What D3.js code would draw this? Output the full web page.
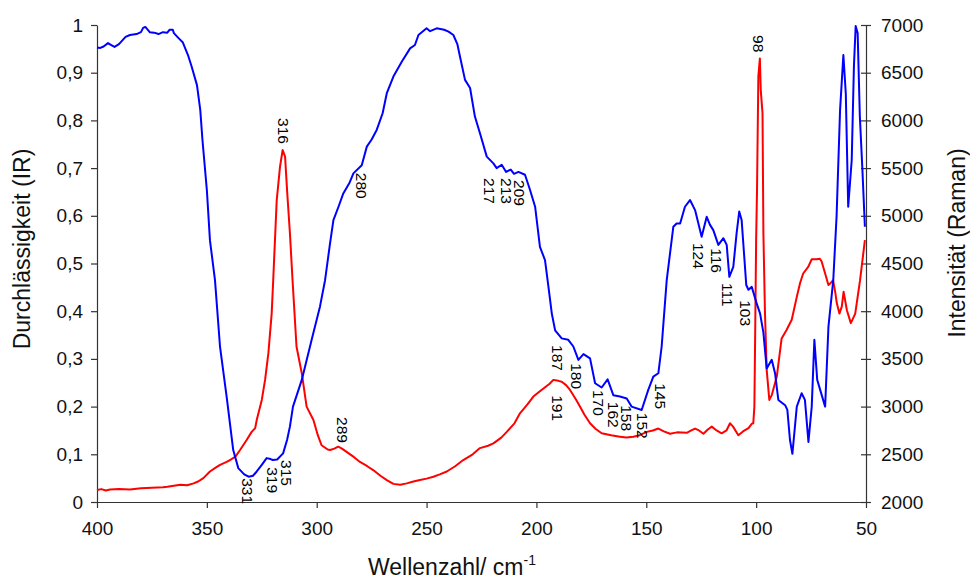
<!DOCTYPE html>
<html>
<head>
<meta charset="utf-8">
<script src="https://cdn.jsdelivr.net/npm/d3@7"></script>
<style>
  html, body { margin: 0; padding: 0; background: #fff; }
  svg { display: block; font-family: "Liberation Sans", Arial, sans-serif; }
</style>
</head>
<body>
<svg id="chart" width="970" height="581"></svg>
<script>
// ---------- DATA ----------
const irWavenumber = [400,398.5,397,395,393.5,392,390,387,385,382,380,379,378,376,374,372,370,368,367,365.5,365,363,361,358.6,357,354.5,353,352,350,348.6,346.3,344,341,338,335.7,333,331,329,327.3,325,322.8,321,320,318,315.3,313.5,312.2,310.8,306.8,302.3,298.5,296.2,294,292.4,290,287.9,285,283.3,279.5,277.2,275,272.7,270,268.1,265.1,261.3,257.5,255.3,253.7,250,248.4,245.4,242,240,237.8,236,234.8,232.5,230.2,228,225.7,222.6,219.6,218.1,215.8,213.8,211.7,210.2,208.2,205.2,202.9,200.6,198.4,196.1,194.5,193,191.5,188.5,185.5,183.2,180.9,178.6,175.6,173.3,170.3,167.6,165,162,158.9,156.7,152.1,149.1,146.8,144.5,143,140.7,137.7,136.2,134.6,132.4,130.1,127.8,124.8,122.5,121,119.5,117.2,114.9,113.4,112.2,110.4,108.9,107.7,106.6,105.5,104.5,103.5,102,99.8,98.2,96.7,95.2,92.9,91.4,89.9,86.8,85.8,84.6,83.5,81.5,79.3,77.8,76.2,74.7,73.5,72.2,68.6,67.1,64.9,63.4,61.8,60.3,59.2,58.1,56.5,55.5,54.7,53.8,52.8,51.7,50.5];
const irTransmission = [0.953,0.952,0.955,0.962,0.958,0.954,0.960,0.975,0.979,0.981,0.985,0.994,0.996,0.985,0.984,0.981,0.985,0.984,0.990,0.990,0.983,0.973,0.964,0.937,0.914,0.874,0.822,0.759,0.654,0.549,0.465,0.325,0.221,0.109,0.071,0.058,0.053,0.055,0.064,0.078,0.092,0.090,0.088,0.089,0.102,0.130,0.158,0.200,0.256,0.340,0.410,0.465,0.540,0.591,0.620,0.647,0.670,0.689,0.706,0.745,0.760,0.780,0.815,0.857,0.892,0.923,0.951,0.958,0.979,0.993,0.987,0.993,0.990,0.986,0.979,0.960,0.934,0.885,0.868,0.808,0.773,0.724,0.710,0.700,0.707,0.692,0.697,0.688,0.692,0.686,0.654,0.619,0.535,0.507,0.450,0.395,0.360,0.343,0.340,0.326,0.298,0.310,0.301,0.249,0.240,0.257,0.224,0.221,0.217,0.200,0.193,0.235,0.263,0.270,0.326,0.465,0.577,0.584,0.584,0.619,0.633,0.612,0.556,0.598,0.581,0.570,0.539,0.553,0.539,0.472,0.493,0.563,0.609,0.591,0.520,0.455,0.445,0.451,0.417,0.395,0.355,0.280,0.298,0.270,0.214,0.203,0.193,0.130,0.101,0.200,0.228,0.214,0.126,0.200,0.340,0.256,0.200,0.367,0.465,0.598,0.822,0.937,0.857,0.619,0.717,0.913,0.998,0.983,0.808,0.703,0.577];

const ramanWavenumber = [400,398,396,394,390,385,380,375,370,368,365,362,359,356,354,351.6,348.6,346,344,341,339.5,337,334.9,331.9,329.6,328,327.3,325,323.5,322,320.5,319.8,318.2,316.7,315.5,314.4,313.4,312.2,311,309.2,306.8,304.6,301.5,299.5,297.8,295,293.9,292,290.2,288.5,286.4,283,280.3,277,274.3,271,268.1,265.1,262,259,256,253,250,246.9,244,240.8,237,233.3,229,225.7,222,219.6,216,213.5,210,207.5,204,201.4,199,196.8,194,192.3,190,188.5,186.5,184.7,182,180.2,178,175.6,173,170.3,166,162,159,155.9,153,149.8,147,144.5,142,139.2,136,131.6,129.5,127.8,126,124,122,120.2,118,115.7,113.5,111.9,110.5,108.1,106,103.5,102,101.3,100.8,100.5,100,99.6,99,98.3,97.9,97.1,96.7,96,95.2,94,92.9,90.6,88.4,86.1,83.8,81.5,80,78.6,76.3,74.7,72.5,71,70.2,68.6,67.1,66.3,65,64,63.3,62.1,61,60.2,58.7,56.9,54.9,52.7,50.5];
const ramanIntensity = [2125,2135,2120,2130,2135,2130,2145,2150,2155,2160,2170,2180,2175,2195,2215,2250,2320,2360,2390,2420,2440,2475,2545,2650,2735,2775,2860,3070,3280,3560,3975,4325,5165,5515,5690,5620,5235,4820,4325,3630,3350,3000,2860,2700,2595,2550,2545,2560,2580,2560,2525,2470,2420,2375,2335,2275,2230,2190,2180,2195,2215,2230,2245,2265,2290,2320,2375,2440,2500,2565,2590,2615,2675,2735,2825,2930,3025,3105,3150,3190,3240,3280,3270,3260,3225,3175,3075,3000,2910,2825,2765,2720,2700,2685,2675,2685,2700,2735,2750,2770,2740,2715,2730,2725,2750,2770,2750,2715,2760,2790,2750,2720,2750,2825,2790,2700,2740,2775,2820,2825,3000,3630,4750,5270,6460,6650,6320,6075,4820,4000,3385,3070,3120,3315,3715,3805,3910,4150,4295,4395,4465,4545,4545,4550,4520,4395,4275,4290,4325,4200,4085,3975,4050,4205,4010,3875,3975,4325,4745];

// peak annotations: label, wavenumber, transmission level (left axis) at label start
const peakLabels     = ["316","280","98","217","213","209","124","116","111","103","331","319","315","289","187","180","191","170","162","158","152","145"];
const peakWavenumber = [315.3,279.4,99.1,221.1,213.4,207.5,126.4,117.8,112.8,105.0,331.3,319.9,313.5,288.0,190.2,181.5,190.2,171.9,165.1,158.8,151.9,143.7];
const peakLevel      = [0.805,0.690,0.979,0.679,0.679,0.675,0.543,0.532,0.459,0.423,0.050,0.073,0.088,0.178,0.329,0.291,0.224,0.235,0.210,0.203,0.187,0.249];

const xTickValues = [400,350,300,250,200,150,100,50];
const leftTickValues = [0,0.1,0.2,0.3,0.4,0.5,0.6,0.7,0.8,0.9,1];
const leftTickLabels = ["0","0,1","0,2","0,3","0,4","0,5","0,6","0,7","0,8","0,9","1"];
const rightTickValues = [2000,2500,3000,3500,4000,4500,5000,5500,6000,6500,7000];

// ---------- CHART ----------
(function () {
  const svg = d3.select("#chart");
  const pLeft = 97, pRight = 866, pTop = 25, pBottom = 502;
  const axisColor = "#333";

  const x = d3.scaleLinear().domain([400, 50]).range([pLeft, pRight]);
  const yL = d3.scaleLinear().domain([0, 1]).range([pBottom, pTop]);
  const yR = d3.scaleLinear().domain([2000, 7000]).range([pBottom, pTop]);

  function styleAxis(g) {
    g.select(".domain").attr("stroke", axisColor).attr("stroke-width", 1.2);
    g.selectAll(".tick line").attr("stroke", axisColor).attr("stroke-width", 1.2);
    g.selectAll(".tick text").attr("fill", "#111").attr("font-size", 19)
      .attr("font-family", "'Liberation Sans', Arial, sans-serif");
  }

  svg.append("g").attr("transform", `translate(0,${pBottom})`)
    .call(d3.axisBottom(x).tickValues(xTickValues).tickSizeInner(6).tickSizeOuter(0).tickPadding(14).tickFormat(d3.format("d")))
    .call(styleAxis);

  svg.append("g").attr("transform", `translate(${pLeft},0)`)
    .call(d3.axisLeft(yL).tickValues(leftTickValues).tickSizeInner(6).tickSizeOuter(0).tickPadding(8)
      .tickFormat((d, i) => leftTickLabels[i]))
    .call(styleAxis);

  const gR = svg.append("g").attr("transform", `translate(${pRight},0)`)
    .call(d3.axisRight(yR).tickValues(rightTickValues).tickSizeInner(5).tickSizeOuter(0).tickPadding(10).tickFormat(d3.format("d")))
    .call(styleAxis);
  gR.selectAll(".tick line").attr("x1", -5);

  const irLine = d3.line().x((d, i) => x(irWavenumber[i])).y((d, i) => yL(irTransmission[i]));
  const ramanLine = d3.line().x((d, i) => x(ramanWavenumber[i])).y((d, i) => yR(ramanIntensity[i]));

  svg.append("path").datum(ramanWavenumber).attr("d", ramanLine)
    .attr("fill", "none").attr("stroke", "#ff0000").attr("stroke-width", 2).attr("stroke-linejoin", "round");
  svg.append("path").datum(irWavenumber).attr("d", irLine)
    .attr("fill", "none").attr("stroke", "#0000ff").attr("stroke-width", 2).attr("stroke-linejoin", "round");

  svg.append("g").selectAll("text").data(peakLabels).join("text")
    .attr("transform", (d, i) => `translate(${x(peakWavenumber[i])},${yL(peakLevel[i])}) rotate(90)`)
    .attr("dy", "0.36em")
    .attr("font-size", 15.5)
    .attr("fill", "#000")
    .text(d => d);

  svg.append("text")
    .attr("transform", `translate(30,249) rotate(-90)`)
    .attr("text-anchor", "middle").attr("font-size", 23).attr("fill", "#111")
    .text("Durchlässigkeit (IR)");

  svg.append("text")
    .attr("transform", `translate(965,243) rotate(-90)`)
    .attr("text-anchor", "middle").attr("font-size", 23).attr("fill", "#111")
    .text("Intensität (Raman)");

  const xt = svg.append("text").attr("x", 368).attr("y", 575).attr("font-size", 23).attr("fill", "#111");
  xt.append("tspan").text("Wellenzahl/ cm");
  xt.append("tspan").attr("dy", -10).attr("font-size", 14).text("-1");
})();
</script>
</body>
</html>
